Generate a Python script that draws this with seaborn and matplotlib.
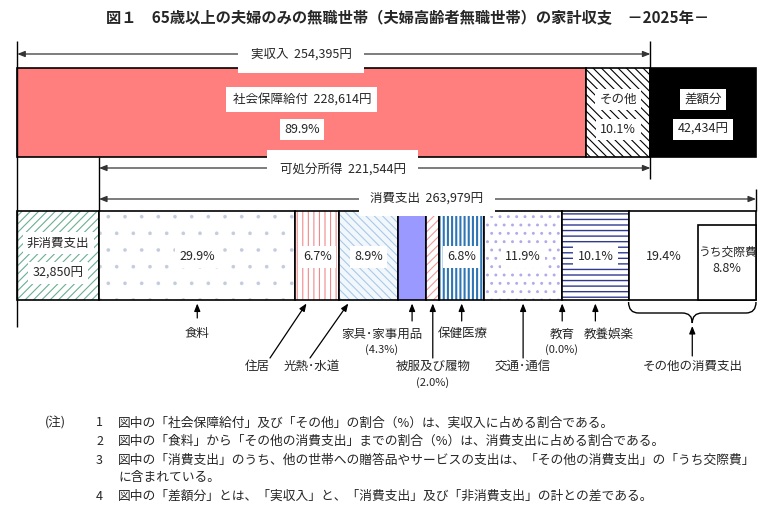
import matplotlib
matplotlib.use('Agg')
import matplotlib.pyplot as plt
import seaborn as sns
from matplotlib.path import Path
from matplotlib.patches import PathPatch

# ---------------- data ----------------
actual_income = 254395
social_security = 228614
surplus = 42434
disposable_income = 221544
non_consumption = 32850
consumption = 263979

income_labels = ['社会保障給付', 'その他', '差額分']
income_values = [social_security, actual_income - social_security, surplus]

cons_labels = ['食料', '住居', '光熱･水道', '家具･家事用品', '被服及び履物',
               '保健医療', '交通･通信', '教育', '教養娯楽', 'その他の消費支出']
cons_shares = [29.9, 6.7, 8.9, 4.3, 2.0, 6.8, 11.9, 0.0, 10.1, 19.4]
kousai_label = 'うち交際費'
kousai_share = 8.8

title = '図１　65歳以上の夫婦のみの無職世帯（夫婦高齢者無職世帯）の家計収支　－2025年－'
notes = [
    ('1', '図中の「社会保障給付」及び「その他」の割合（%）は、実収入に占める割合である。'),
    ('2', '図中の「食料」から「その他の消費支出」までの割合（%）は、消費支出に占める割合である。'),
    ('3', '図中の「消費支出」のうち、他の世帯への贈答品やサービスの支出は、「その他の消費支出」の「うち交際費」'),
    ('', 'に含まれている。'),
    ('4', '図中の「差額分」とは、「実収入」と、「消費支出」及び「非消費支出」の計との差である。'),
]

# ---------------- style ----------------
sns.set_theme(style='white')
plt.rcParams['font.family'] = ['Noto Sans CJK JP', 'DejaVu Sans']
plt.rcParams['hatch.linewidth'] = 0.8

W, H = 774, 519
fig = plt.figure(figsize=(W / 100, H / 100), dpi=100)
ax = fig.add_axes([0, 0, 1, 1])
total = sum(income_values)
X0, X1 = 17.3, 756.0
ypp = total / (X1 - X0)
ax.set_xlim(-X0 * ypp, (W - X0) * ypp)
ax.set_ylim(H, 0)
ax.axis('off')


def px(x):
    return (x - X0) * ypp


FS = 9
box = dict(boxstyle='square,pad=0.35', facecolor='white', edgecolor='none')


def seg(yc, h, left, width, face, hatch=None, hcolor=None, hlw=None):
    if hatch:
        bars = ax.barh(yc, width, left=left, height=h, color=face,
                       edgecolor=hcolor, hatch=hatch, linewidth=0)
        if hlw is not None:
            for p in bars:
                if hasattr(p, 'set_hatch_linewidth'):
                    p.set_hatch_linewidth(hlw)
    else:
        ax.barh(yc, width, left=left, height=h, color=face, linewidth=0)
    ax.barh(yc, width, left=left, height=h, fill=False,
            edgecolor='black', linewidth=1.2)


# ---------------- top bar (income) ----------------
TOP_Y0, TOP_Y1 = 67.7, 157.0
top_c, top_h = (TOP_Y0 + TOP_Y1) / 2, TOP_Y1 - TOP_Y0
top_styles = {
    '社会保障給付': dict(face='#FF7F7F'),
    'その他': dict(face='white', hatch='\\\\\\\\', hcolor='black'),
    '差額分': dict(face='black'),
}
left = 0
top_lefts = []
for lab, v in zip(income_labels, income_values):
    seg(top_c, top_h, left, v, **top_styles[lab])
    top_lefts.append(left)
    left += v

row1, row2 = 99.5, 129.5
c0 = top_lefts[0] + income_values[0] / 2
ax.text(c0, row1, f'{income_labels[0]}  {income_values[0]:,}円', ha='center', va='center', fontsize=FS,
        bbox=dict(boxstyle='square,pad=0.5', facecolor='white', edgecolor='none'))
ax.text(c0, row2, f'{income_values[0] / actual_income * 100:.1f}%', ha='center', va='center', fontsize=FS, bbox=box)
c1 = top_lefts[1] + income_values[1] / 2
ax.text(c1, row1, income_labels[1], ha='center', va='center', fontsize=FS, bbox=box)
ax.text(c1, row2, f'{income_values[1] / actual_income * 100:.1f}%', ha='center', va='center', fontsize=FS, bbox=box)
c2 = top_lefts[2] + income_values[2] / 2
ax.text(c2, row1, income_labels[2], ha='center', va='center', fontsize=FS, bbox=box)
ax.text(c2, row2, f'{income_values[2]:,}円', ha='center', va='center', fontsize=FS, bbox=box)

# ---------------- bottom bar (expenditure) ----------------
BOT_Y0, BOT_Y1 = 211.0, 300.0
bot_c, bot_h = (BOT_Y0 + BOT_Y1) / 2, BOT_Y1 - BOT_Y0
seg(bot_c, bot_h, 0, non_consumption, 'white', hatch='////', hcolor='#6BAF92')
ax.text(non_consumption / 2, 243, '非消費支出', ha='center', va='center', fontsize=FS, bbox=box)
ax.text(non_consumption / 2, 273, f'{non_consumption:,}円', ha='center', va='center', fontsize=FS, bbox=box)

cons_styles = {
    '食料': dict(face='white', hatch='.', hcolor='#C3CBDD', hlw=0.2),
    '住居': dict(face='white', hatch='|||', hcolor='#F08A8A'),
    '光熱･水道': dict(face='#F2F7FC', hatch='\\\\\\\\', hcolor='#A9C9EA'),
    '家具･家事用品': dict(face='#9999FF'),
    '被服及び履物': dict(face='white', hatch='////', hcolor='#F09A9A'),
    '保健医療': dict(face='white', hatch='||||', hcolor='#2E75B6', hlw=1.5),
    '交通･通信': dict(face='white', hatch='..', hcolor='#B3AAEA', hlw=0.9),
    '教育': dict(face='white'),
    '教養娯楽': dict(face='white', hatch='---', hcolor='#2F3A8F', hlw=1.0),
    'その他の消費支出': dict(face='white'),
}
cons_vals = [s / 100 * consumption for s in cons_shares]
cons_lefts = []
left = non_consumption
for lab, v in zip(cons_labels, cons_vals):
    seg(bot_c, bot_h, left, v, **cons_styles[lab])
    cons_lefts.append(left)
    left += v

# うち交際費 box inside その他の消費支出
other_left = cons_lefts[-1]
other_right = cons_lefts[-1] + cons_vals[-1]
k_w = kousai_share / 100 * consumption
k_left = other_right - k_w
KB_Y0 = 225.0
ax.barh((KB_Y0 + BOT_Y1) / 2, k_w, left=k_left, height=BOT_Y1 - KB_Y0,
        color='white', edgecolor='black', linewidth=1.2)
ax.text(k_left + k_w / 2, 252, kousai_label, ha='center', va='center', fontsize=FS - 0.5)
ax.text(k_left + k_w / 2, 268, f'{kousai_share:.1f}%', ha='center', va='center', fontsize=FS)

for lab, v, l, s in zip(cons_labels, cons_vals, cons_lefts, cons_shares):
    if s < 5:
        continue
    if lab == 'その他の消費支出':
        cx = (l + k_left) / 2
        ax.text(cx, 257, f'{s:.1f}%', ha='center', va='center', fontsize=FS)
    else:
        ax.text(l + v / 2, 257, f'{s:.1f}%', ha='center', va='center', fontsize=FS, bbox=box)

# ---------------- guide lines and span arrows ----------------
LC = '#333333'
ax.vlines(0, 41, 327, color='black', linewidth=1.0)
ax.vlines(actual_income, 41, 179, color='black', linewidth=1.0)
ax.vlines(non_consumption, TOP_Y1, BOT_Y0, color='black', linewidth=1.0)
ax.vlines(total, 189, BOT_Y0, color='black', linewidth=1.0)

span_style = dict(arrowstyle='<|-|>,head_length=0.45,head_width=0.18', color=LC,
                  lw=0.9, shrinkA=0, shrinkB=0, mutation_scale=10)
ax.annotate('', xy=(actual_income, 54), xytext=(0, 54), arrowprops=span_style)
ax.text(px(301), 54, f'実収入  {actual_income:,}円', ha='center', va='center', fontsize=FS,
        bbox=dict(boxstyle='square,pad=1.0', facecolor='white', edgecolor='none'))
ax.annotate('', xy=(actual_income, 168), xytext=(non_consumption, 168), arrowprops=span_style)
ax.text(px(343), 169, f'可処分所得  {disposable_income:,}円', ha='center', va='center', fontsize=FS,
        bbox=dict(boxstyle='square,pad=1.0', facecolor='white', edgecolor='none'))
ax.annotate('', xy=(total, 199), xytext=(non_consumption, 199), arrowprops=span_style)
ax.text(px(427), 198, f'消費支出  {consumption:,}円', ha='center', va='center', fontsize=FS,
        bbox=dict(boxstyle='square,pad=0.9', facecolor='white', edgecolor='none'))

# ---------------- category call-outs ----------------
pt_style = dict(arrowstyle='-|>,head_length=0.45,head_width=0.18', color='black',
                lw=0.9, shrinkA=0, shrinkB=0, mutation_scale=10)
TIP_Y = 303.5
callouts = {
    '食料': dict(frac=0.5, tail=(None, 318), text=(None, 334)),
    '住居': dict(frac=0.25, tail=(270, 358), text=(257, 366)),
    '光熱･水道': dict(frac=0.15, tail=(310, 358), text=(312, 366)),
    '家具･家事用品': dict(frac=0.5, tail=(None, 321), text=(382, 334), sub=(382, 350)),
    '被服及び履物': dict(frac=0.5, tail=(None, 358), text=(433, 366), sub=(433, 383)),
    '保健医療': dict(frac=0.5, tail=(None, 321), text=(463, 334)),
    '交通･通信': dict(frac=0.5, tail=(None, 358), text=(523, 366)),
    '教育': dict(frac=0.5, tail=(None, 321), text=(562, 334), sub=(562, 350)),
    '教養娯楽': dict(frac=0.5, tail=(None, 321), text=(609, 334)),
}
for lab, v, l, s in zip(cons_labels, cons_vals, cons_lefts, cons_shares):
    if lab not in callouts:
        continue
    c = callouts[lab]
    tx = l + v * c['frac']
    tail_x = tx if c['tail'][0] is None else px(c['tail'][0])
    ax.annotate('', xy=(tx, TIP_Y), xytext=(tail_x, c['tail'][1]), arrowprops=pt_style)
    lx = tx if c['text'][0] is None else px(c['text'][0])
    ax.text(lx, c['text'][1], lab, ha='center', va='center', fontsize=FS)
    if 'sub' in c:
        ax.text(px(c['sub'][0]), c['sub'][1], f'({s:.1f}%)', ha='center', va='center', fontsize=FS - 1)

# brace under その他の消費支出
a, b = other_left, other_right
m = (a + b) / 2
r = 10 * ypp
yb0, yb1, yb2 = 302.0, 313.0, 323.0
verts = [(a, yb0), (a, yb1), (a + r, yb1), (m - r, yb1), (m, yb1), (m, yb2),
         (m, yb1), (m + r, yb1), (b - r, yb1), (b, yb1), (b, yb0)]
codes = [Path.MOVETO, Path.CURVE3, Path.CURVE3, Path.LINETO, Path.CURVE3, Path.CURVE3,
         Path.CURVE3, Path.CURVE3, Path.LINETO, Path.CURVE3, Path.CURVE3]
ax.add_patch(PathPatch(Path(verts, codes), facecolor='none', edgecolor='black', lw=1.0))
ax.annotate('', xy=(m, 326), xytext=(m, 356), arrowprops=pt_style)
ax.text(m, 366, cons_labels[-1], ha='center', va='center', fontsize=FS)

# ---------------- title and notes ----------------
fig.text(408 / W, 1 - 18 / H, title, ha='center', va='center', fontsize=11, fontweight='bold')
fig.text(45 / W, 1 - 423 / H, '(注)', ha='left', va='center', fontsize=FS)
note_y = [423, 441.5, 460, 478, 496]
for (num, txt), y in zip(notes, note_y):
    if num:
        fig.text(96 / W, 1 - y / H, num, ha='left', va='center', fontsize=FS)
    fig.text(118 / W, 1 - y / H, txt, ha='left', va='center', fontsize=9.2)

fig.savefig('out.png', dpi=100)
